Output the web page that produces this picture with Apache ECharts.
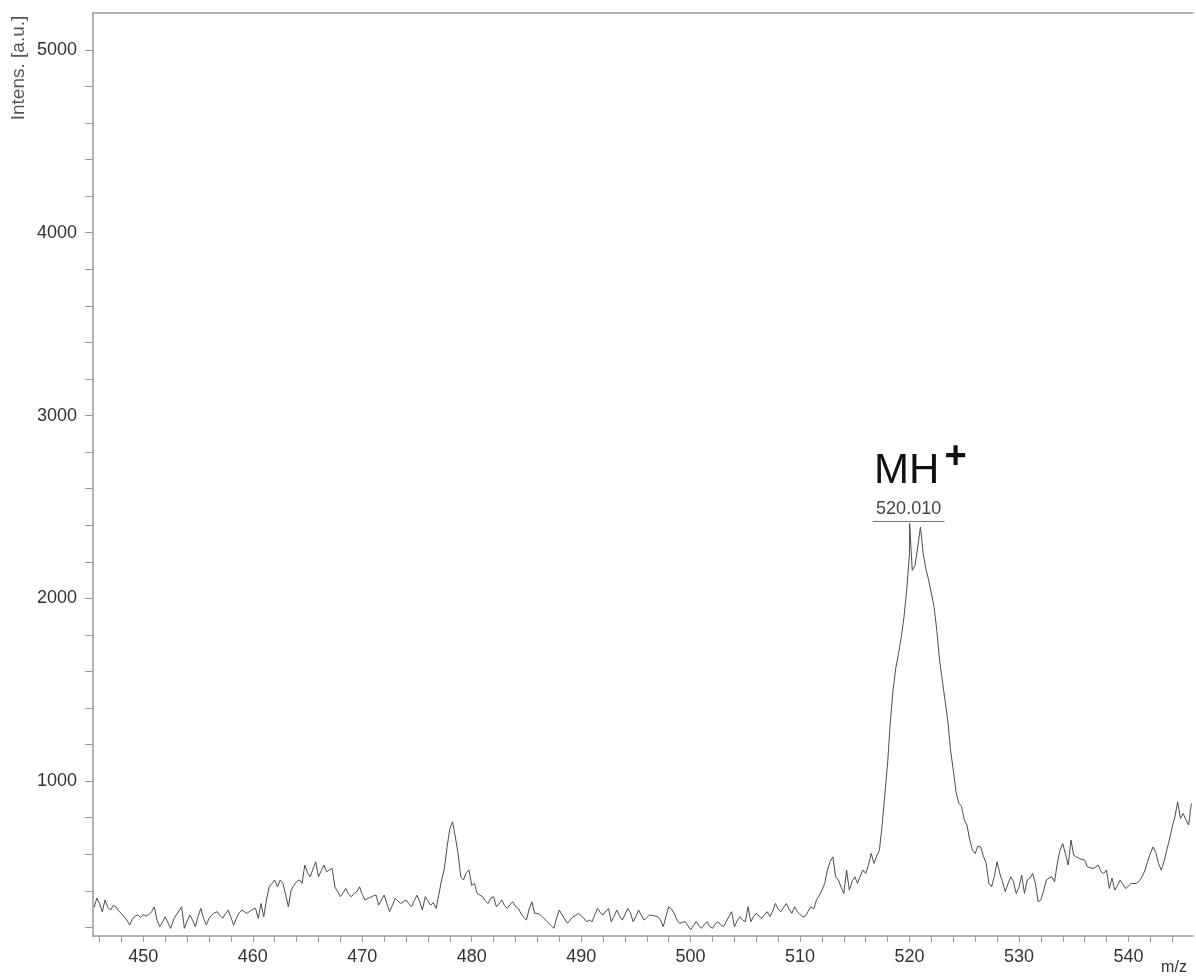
<!DOCTYPE html>
<html>
<head>
<meta charset="utf-8">
<title>Mass spectrum</title>
<script src="https://cdn.jsdelivr.net/npm/echarts@6/dist/echarts.min.js"></script>
<style>
  html, body { margin: 0; padding: 0; background: #fff; }
  #chart { width: 1196px; height: 976px; }
</style>
</head>
<body>
<div id="chart"></div>
<script>
// m/z sampling grid: first sample and spacing of the acquired spectrum
const mzStart = 445.5;
const mzStep = 0.25;

// Intensities [a.u.], one row per m/z unit (x.00, x.25, x.50, x.75)
const intensity = [
  310, 360,                 // 445.50 – 445.75
  330, 285, 350, 310,       // 446
  295, 320, 313, 290,       // 447
  275, 258, 240, 213,       // 448
  245, 262, 268, 255,       // 449
  270, 262, 270, 285,       // 450
  313, 240, 204, 230,       // 451
  258, 225, 195, 240,       // 452
  268, 290, 313, 195,       // 453
  235, 268, 240, 204,       // 454
  260, 304, 250, 213,       // 455
  250, 268, 280, 286,       // 456
  265, 250, 275, 295,       // 457
  255, 213, 250, 280,       // 458
  295, 285, 277, 290,       // 459
  300, 304, 250, 331,       // 460
  258, 350, 422, 440,       // 461
  459, 422, 459, 441,       // 462
  380, 313, 404, 430,       // 463
  450, 460, 441, 541,       // 464
  500, 477, 520, 559,       // 465
  477, 510, 541, 504,       // 466
  515, 522, 422, 395,       // 467
  368, 390, 413, 380,       // 468
  368, 385, 395, 422,       // 469
  380, 350, 359, 365,       // 470
  372, 377, 322, 350,       // 471
  377, 330, 286, 320,       // 472
  359, 345, 331, 340,       // 473
  350, 330, 313, 345,       // 474
  377, 340, 295, 368,       // 475
  345, 322, 335, 304,       // 476
  380, 460, 520, 641,       // 477
  740, 778, 696, 605,       // 478
  477, 459, 500, 514,       // 479
  430, 441, 386, 377,       // 480
  368, 345, 331, 360,       // 481
  368, 313, 330, 350,       // 482
  320, 304, 325, 340,       // 483
  315, 304, 277, 255,       // 484
  240, 300, 340, 277,       // 485
  277, 270, 255, 240,       // 486
  225, 210, 195, 250,       // 487
  295, 270, 245, 222,       // 488
  240, 259, 265, 277,       // 489
  265, 250, 231, 240,       // 490
  231, 270, 304, 280,       // 491
  268, 290, 304, 231,       // 492
  260, 295, 265, 240,       // 493
  270, 304, 280, 231,       // 494
  260, 295, 265, 240,       // 495
  255, 268, 265, 262,       // 496
  259, 240, 204, 260,       // 497
  313, 300, 277, 240,       // 498
  222, 228, 231, 210,       // 499
  186, 210, 231, 210,       // 500
  195, 215, 231, 205,       // 501
  195, 220, 231, 215,       // 502
  204, 230, 260, 286,       // 503
  204, 235, 259, 240,       // 504
  231, 313, 231, 260,       // 505
  277, 262, 250, 270,       // 506
  286, 259, 290, 331,       // 507
  300, 286, 310, 331,       // 508
  300, 277, 313, 286,       // 509
  270, 258, 262, 290,       // 510
  313, 300, 350, 375,       // 511
  404, 440, 514, 560,       // 512
  586, 477, 459, 420,       // 513
  386, 514, 404, 450,       // 514
  477, 441, 480, 514,       // 515
  495, 540, 605, 550,       // 516
  590, 623, 760, 930,       // 517
  1100, 1330, 1500, 1620,   // 518
  1700, 1790, 1900, 2050,   // 519
  2245, 2153, 2180, 2280,   // 520
  2390, 2245, 2160, 2100,   // 521
  2026, 1950, 1820, 1660,   // 522
  1550, 1440, 1330, 1170,   // 523
  1060, 940, 880, 862,      // 524
  790, 760, 680, 623,       // 525
  605, 645, 640, 590,       // 526
  550, 441, 422, 480,       // 527
  559, 495, 450, 395,       // 528
  440, 477, 450, 386,       // 529
  420, 486, 386, 459,       // 530
  470, 495, 441, 340,       // 531
  350, 400, 459, 470,       // 532
  477, 450, 550, 623,       // 533
  659, 600, 541, 678,       // 534
  596, 585, 577, 572,       // 535
  568, 532, 527, 522,       // 536
  530, 541, 505, 495,       // 537
  514, 413, 470, 404,       // 538
  430, 459, 435, 413,       // 539
  425, 441, 440, 441,       // 540
  455, 477, 510, 560,       // 541
  605, 640, 610, 550,       // 542
  514, 560, 623, 680,       // 543
  750, 805, 887, 796,       // 544
  823, 790, 760, 878        // 545
];

// Labelled monoisotopic peak (MH+)
const peakMz = 520.010;
const peakIntensity = 2410;
const peakName = 'MH';
const peakCharge = '+';

// Axis ranges and tick positions
const xRange = [445.4, 545.9];
const yRange = [153, 5202];
const xLabelValues = [450, 460, 470, 480, 490, 500, 510, 520, 530, 540];
const xTickValues = [446, 448, 450, 452, 454, 456, 458, 460, 462, 464, 466, 468, 470,
  472, 474, 476, 478, 480, 482, 484, 486, 488, 490, 492, 494, 496, 498, 500,
  502, 504, 506, 508, 510, 512, 514, 516, 518, 520, 522, 524, 526, 528, 530,
  532, 534, 536, 538, 540, 542, 544];
const yLabelValues = [1000, 2000, 3000, 4000, 5000];
const yTickValues = [200, 400, 600, 800, 1000, 1200, 1400, 1600, 1800, 2000, 2200, 2400,
  2600, 2800, 3000, 3200, 3400, 3600, 3800, 4000, 4200, 4400, 4600, 4800, 5000];

// Build [m/z, intensity] pairs and slot the labelled peak in by m/z
const spectrum = intensity.map((v, i) => [mzStart + i * mzStep, v]);
spectrum.push([peakMz, peakIntensity]);
spectrum.sort((a, b) => a[0] - b[0]);

const FONT = '"Liberation Sans", Arial, Helvetica, sans-serif';
const AXIS_COLOR = '#9a9a9a';
const TEXT_COLOR = '#333';
const plain = v => String(v);

const chart = echarts.init(document.getElementById('chart'), null, { renderer: 'canvas' });

chart.setOption({
  animation: false,
  backgroundColor: '#fff',
  grid: { left: 93, top: 13, right: 3, bottom: 40, containLabel: false },
  xAxis: [
    {
      type: 'value',
      min: xRange[0],
      max: xRange[1],
      axisLine: { show: true, onZero: false, lineStyle: { color: AXIS_COLOR, width: 1.5 } },
      axisTick: { show: true, length: 6, inside: false, customValues: xTickValues,
        lineStyle: { color: AXIS_COLOR, width: 1 } },
      axisLabel: { show: true, customValues: xLabelValues, margin: 12, formatter: plain,
        color: TEXT_COLOR, fontSize: 18, fontFamily: FONT },
      splitLine: { show: false }
    },
    {
      type: 'value',
      position: 'top',
      min: xRange[0],
      max: xRange[1],
      axisLine: { show: true, onZero: false, lineStyle: { color: AXIS_COLOR, width: 1.5 } },
      axisTick: { show: false },
      axisLabel: { show: false },
      splitLine: { show: false }
    }
  ],
  yAxis: {
    type: 'value',
    min: yRange[0],
    max: yRange[1],
    axisLine: { show: true, onZero: false, lineStyle: { color: AXIS_COLOR, width: 1.5 } },
    axisTick: { show: true, length: 8, inside: false, customValues: yTickValues,
      lineStyle: { color: AXIS_COLOR, width: 1 } },
    axisLabel: { show: true, customValues: yLabelValues, margin: 16, formatter: plain,
      color: TEXT_COLOR, fontSize: 18, fontFamily: FONT },
    splitLine: { show: false }
  },
  series: [{
    type: 'line',
    data: spectrum,
    xAxisIndex: 0,
    showSymbol: false,
    symbol: 'none',
    lineStyle: { color: '#4d4d4d', width: 1 },
    z: 3
  }]
});

// Peak annotation placed from the labelled peak's own coordinates
const [px, py] = chart.convertToPixel({ xAxisIndex: 0, yAxisIndex: 0 }, [peakMz, peakIntensity]);
const lineY = Math.round(py) - 1.5;

chart.setOption({
  graphic: [
    {
      type: 'text',
      rotation: Math.PI / 2,
      x: 19, y: 68,
      style: {
        text: 'Intens. [a.u.]',
        fill: '#555',
        font: '19px ' + FONT,
        align: 'center',
        verticalAlign: 'middle'
      }
    },
    {
      type: 'text',
      x: 1174, y: 968,
      style: {
        text: 'm/z',
        fill: TEXT_COLOR,
        font: '16px ' + FONT,
        align: 'center',
        verticalAlign: 'middle'
      }
    },
    {
      type: 'line',
      shape: { x1: px - 37, y1: lineY, x2: px + 35, y2: lineY },
      style: { stroke: '#777', lineWidth: 1 }
    },
    {
      type: 'text',
      x: px - 1, y: lineY - 3,
      style: {
        text: peakMz.toFixed(3),
        fill: '#444',
        font: '18px ' + FONT,
        align: 'center',
        verticalAlign: 'bottom'
      }
    },
    {
      type: 'text',
      x: px - 3, y: lineY - 29,
      style: {
        text: peakName,
        fill: '#111',
        font: '42px ' + FONT,
        align: 'center',
        verticalAlign: 'bottom'
      }
    },
    {
      type: 'text',
      x: px + 46, y: lineY - 64,
      style: {
        text: peakCharge,
        fill: '#111',
        font: 'bold 38px ' + FONT,
        align: 'center',
        verticalAlign: 'middle'
      }
    }
  ]
});
</script>
</body>
</html>
